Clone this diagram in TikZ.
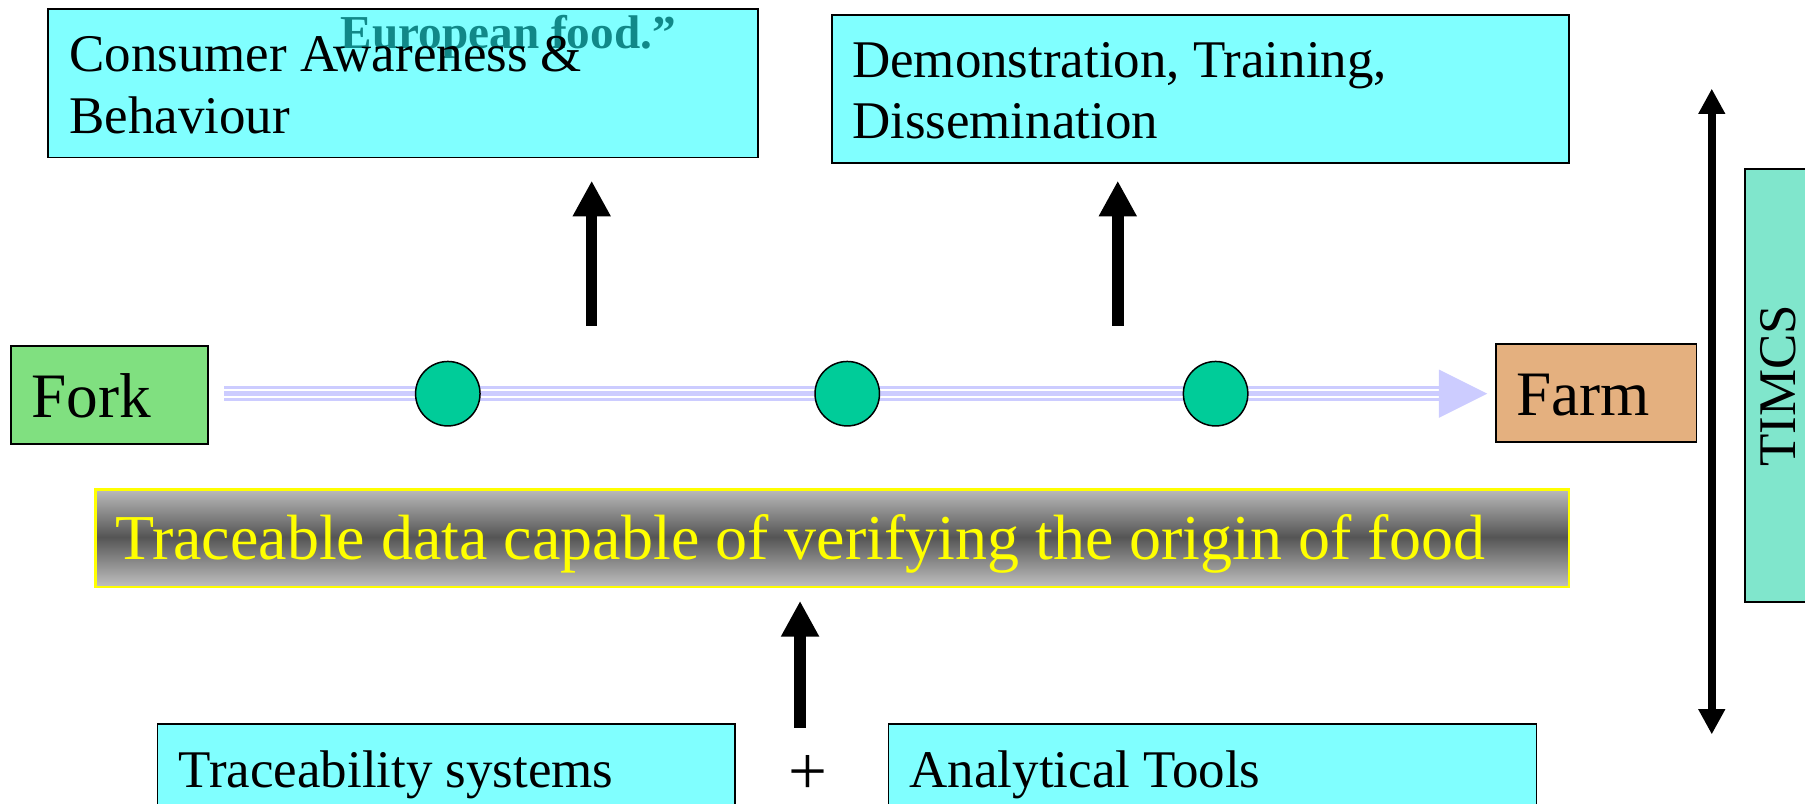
\documentclass[tikz,border=0pt]{standalone}
\usepackage{fontspec}
\setmainfont{Liberation Serif}
\usetikzlibrary{arrows.meta}
\definecolor{boxcyan}{HTML}{80FFFF}
\definecolor{forkgreen}{HTML}{80E080}
\definecolor{farmtan}{HTML}{E4B07F}
\definecolor{timcsgreen}{HTML}{80E6CC}
\definecolor{dotgreen}{HTML}{00CC99}
\definecolor{lav}{HTML}{CCCCFF}
\definecolor{tealtext}{HTML}{118888}
\definecolor{lightgrey}{HTML}{BEBEBE}
\definecolor{darkgrey}{HTML}{555555}
\definecolor{yel}{HTML}{FFFF00}
\begin{document}
\begin{tikzpicture}[x=1pt,y=-1pt,
  cbox/.style={draw=black, line width=1.5pt, fill=boxcyan, inner sep=0pt, anchor=north west},
  endbox/.style={draw=black, line width=1.5pt, inner sep=0pt, anchor=north west},
  txt/.style={inner sep=0pt, anchor=base west, font=\fontsize{46}{54}\selectfont},
  bigtxt/.style={inner sep=0pt, anchor=base west, font=\fontsize{55}{60}\selectfont},
  uparrow/.style={line width=10pt, -{Triangle[length=31pt,width=31pt]}},
  dblarrow/.style={line width=7pt, {Triangle[length=22pt,width=22pt]}-{Triangle[length=22pt,width=22pt]}},
  dot/.style={circle, draw=black, line width=1.3pt, fill=dotgreen, minimum size=56pt, inner sep=0pt}
]
\useasboundingbox (0,0) rectangle (1568,698);
\clip (0,0) rectangle (1568,698);

% top boxes
\node[cbox, minimum width=617pt, minimum height=129pt] (cab) at (41,7) {};
\node[inner sep=0pt, anchor=base west, text=tealtext, font=\bfseries\fontsize{41}{41}\selectfont] (euro) at (296,42) {European food.”};
\node[txt] (cab1) at (60,62) {Consumer Awareness \&};
\node[txt] (cab2) at (60,116) {Behaviour};

\node[cbox, minimum width=640pt, minimum height=129pt] (dtd) at (722,12) {};
\node[txt] (dtd1) at (740,67) {Demonstration, Training,};
\node[txt] (dtd2) at (740,120) {Dissemination};

% up arrows
\coordinate (u1s) at (514,283); \coordinate (u1e) at (514,157);
\coordinate (u2s) at (971,283); \coordinate (u2e) at (971,157);
\draw[uparrow] (u1s) -- (u1e);
\draw[uparrow] (u2s) -- (u2e);

% fork / farm
\node[endbox, fill=forkgreen, minimum width=171pt, minimum height=85pt] (fork) at (9,300) {};
\node[bigtxt] (forkt) at (27,363) {Fork};
\node[endbox, fill=farmtan, minimum width=174pt, minimum height=85pt] (farm) at (1299,298) {};
\node[bigtxt] (farmt) at (1317,361) {Farm};

% flow line
\coordinate (ls) at (195,342);
\coordinate (le) at (1251,342);
\coordinate (tip) at (1292,342);
\draw[lav, line width=13pt] (ls) -- (le);
\draw[white, line width=1.8pt] ([yshift=3.6pt]ls) -- ([yshift=3.6pt]le);
\draw[white, line width=1.8pt] ([yshift=-3.2pt]ls) -- ([yshift=-3.2pt]le);
\fill[lav] (1250,321) -- (tip) -- (1250,363) -- cycle;

\node[dot] (d1) at (389,342) {};
\node[dot] (d2) at (736,342) {};
\node[dot] (d3) at (1056,342) {};

% traceable data banner
\shade[top color=lightgrey, bottom color=lightgrey, middle color=darkgrey] (82,424) rectangle (1362,509);
\node[draw=yel, line width=2.2pt, inner sep=0pt, anchor=north west, minimum width=1280pt, minimum height=85pt] (banner) at (82,424) {};
\node[inner sep=0pt, anchor=base west, font=\fontsize{55.6}{60}\selectfont, text=yel] (bannert) at (100,486) {Traceable data capable of verifying the origin of food};

% bottom arrow and boxes
\coordinate (u3s) at (695,632); \coordinate (u3e) at (695,522);
\draw[uparrow] (u3s) -- (u3e);

\node[cbox, minimum width=502pt, minimum height=120pt] (tsys) at (136,628) {};
\node[txt] (tsyst) at (155,684) {Traceability systems};
\node[inner sep=0pt, anchor=base, font=\fontsize{60}{60}\selectfont] (plus) at (702,690) {+};
\node[cbox, minimum width=563pt, minimum height=120pt] (atool) at (771,628) {};
\node[txt] (atoolt) at (790,684) {Analytical Tools};

% TIMCS
\coordinate (v1) at (1487,77); \coordinate (v2) at (1487,638);
\draw[dblarrow] (v1) -- (v2);
\node[endbox, fill=timcsgreen, minimum width=100pt, minimum height=376pt] (timcs) at (1515,146) {};
\node[inner sep=0pt, rotate=90, font=\fontsize{46}{54}\selectfont] (timcst) at (1545,335) {TIMCS};
\end{tikzpicture}
\end{document}
